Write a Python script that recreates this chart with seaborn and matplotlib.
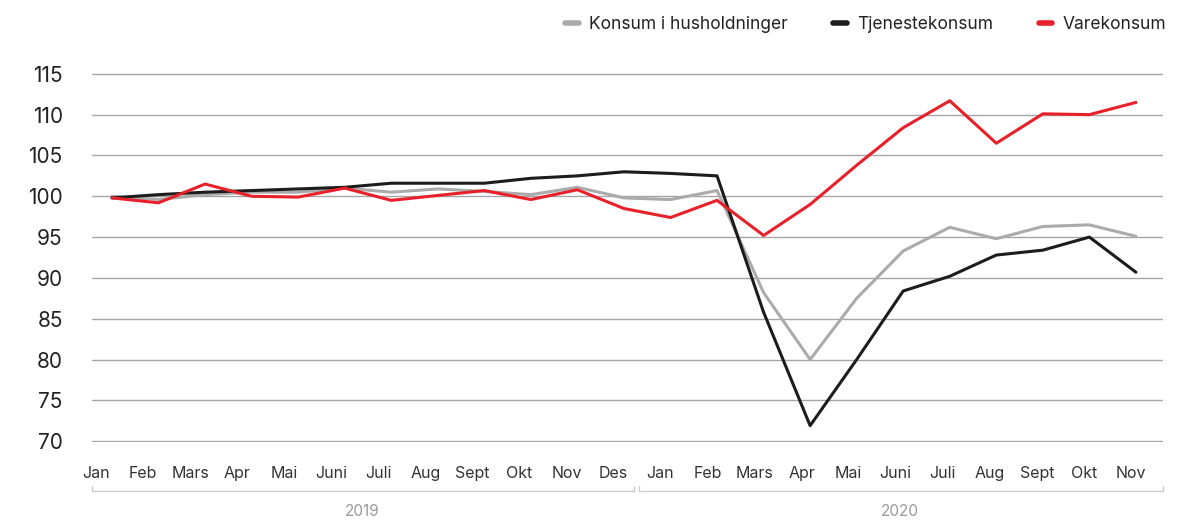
import matplotlib
matplotlib.use("Agg")

import matplotlib.pyplot as plt
import matplotlib.transforms as mtransforms
from matplotlib.lines import Line2D
import seaborn as sns
import pandas as pd

months = ["Jan", "Feb", "Mars", "Apr", "Mai", "Juni", "Juli", "Aug", "Sept", "Okt", "Nov", "Des",
          "Jan", "Feb", "Mars", "Apr", "Mai", "Juni", "Juli", "Aug", "Sept", "Okt", "Nov"]

konsum = [100.0, 99.6, 100.2, 100.5, 100.5, 101.0, 100.5, 100.9, 100.6, 100.2, 101.1, 99.8,
          99.6, 100.7, 88.2, 80.0, 87.5, 93.3, 96.2, 94.8, 96.3, 96.5, 95.1]
tjeneste = [99.8, 100.2, 100.5, 100.7, 100.9, 101.1, 101.6, 101.6, 101.6, 102.2, 102.5, 103.0,
            102.8, 102.5, 85.8, 71.9, 80.0, 88.4, 90.2, 92.8, 93.4, 95.0, 90.7]
vare = [99.8, 99.2, 101.5, 100.0, 99.9, 101.0, 99.5, 100.1, 100.7, 99.6, 100.8, 98.5,
        97.4, 99.5, 95.2, 99.0, 103.8, 108.4, 111.7, 106.5, 110.1, 110.0, 111.5]

series_names = ["Konsum i husholdninger", "Tjenestekonsum", "Varekonsum"]
colors = ["#ababab", "#1c1c1c", "#e8202a"]
years = ["2019", "2020"]

rows = []
for name, vals in zip(series_names, [konsum, tjeneste, vare]):
    for i, v in enumerate(vals):
        rows.append({"idx": i, "verdi": v, "serie": name})
df = pd.DataFrame(rows)

sns.set_style("white")
plt.rcParams["font.family"] = ["Inter", "DejaVu Sans"]

fig = plt.figure(figsize=(11.88, 5.2), dpi=100)
ax = fig.add_axes([0.0774, 0.15, 0.9015, 0.7096])

sns.lineplot(data=df, x="idx", y="verdi", hue="serie", hue_order=series_names,
             palette=colors, linewidth=2.2, ax=ax, legend=False)

ax.set_xlim(-0.43, 22.58)
ax.set_ylim(69.9, 115.1)
ax.set_yticks(range(70, 116, 5))
# month labels sit on a slightly wider band than the data points
tick_pos = [i * 1.0107 - 0.344 for i in range(len(months))]
ax.set_xticks(tick_pos)
ax.set_xticklabels(months)
ax.set_xlabel("")
ax.set_ylabel("")
ax.yaxis.grid(True, color="#a6a6a6", linewidth=1)
ax.xaxis.grid(False)
ax.set_axisbelow(True)
for s in ax.spines.values():
    s.set_visible(False)
ax.tick_params(axis="y", length=0, pad=21, labelsize=15, labelcolor="#222222")
ax.tick_params(axis="x", length=0, pad=17, labelsize=11.5, labelcolor="#333333")

# year brackets under the month labels
trans = mtransforms.blended_transform_factory(ax.transData, ax.transAxes)
y_line, y_tick, y_lab = -0.133, -0.119, -0.187
for (x0, x1), lab, xc in zip([(-0.43, 11.21), (11.32, 22.58)], years, [5.37, 16.93]):
    ax.plot([x0, x0, x1, x1], [y_tick, y_line, y_line, y_tick], color="#cccccc",
            linewidth=1, transform=trans, clip_on=False)
    ax.text(xc, y_lab, lab, transform=trans, ha="center", va="center",
            fontsize=11, color="#9a9a9a")

handles = [Line2D([0], [0], color=c, linewidth=4) for c in colors]
fig.legend(handles, series_names, loc="upper right", bbox_to_anchor=(0.995, 1.0),
           ncol=3, frameon=False, fontsize=12.5, handlelength=0.8, handletextpad=0.6,
           columnspacing=2.6, labelcolor="#222222")

plt.savefig("out.png", dpi=100)
plt.close()
